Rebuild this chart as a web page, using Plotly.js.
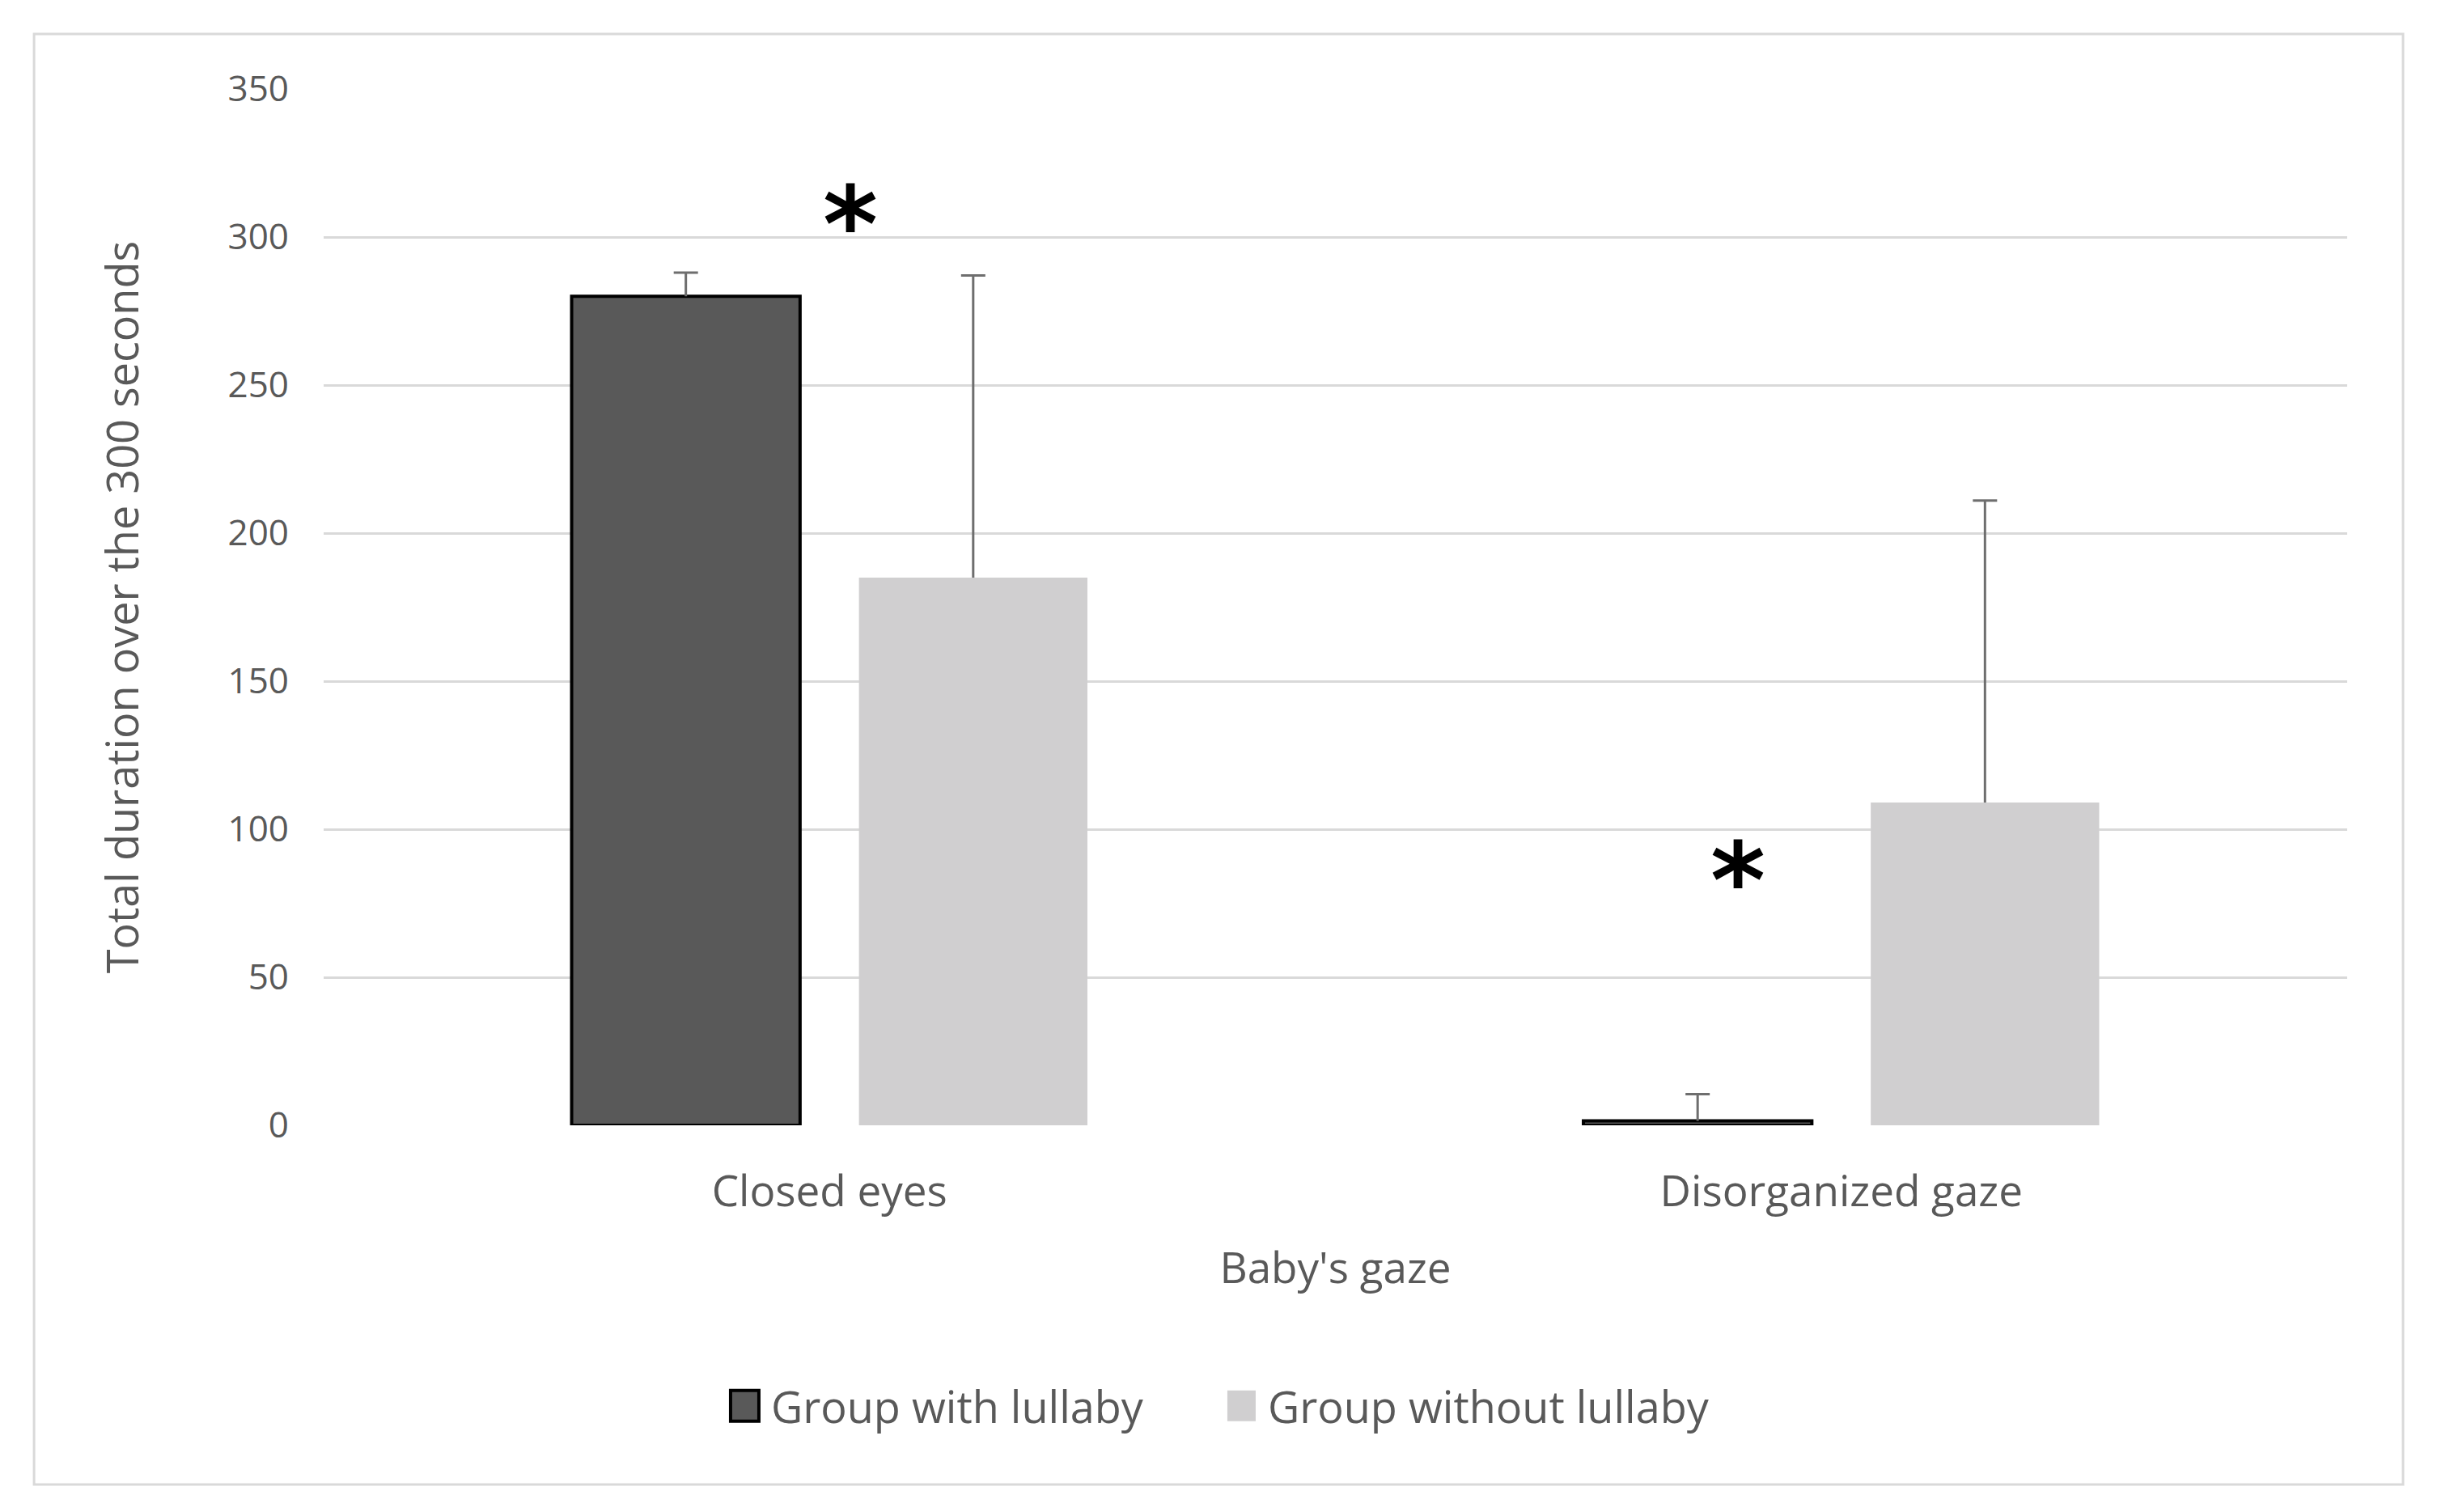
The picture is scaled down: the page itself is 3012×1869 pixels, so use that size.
<!DOCTYPE html>
<html>
<head>
<meta charset="utf-8">
<script src="https://cdn.plot.ly/plotly-3.0.1.min.js"></script>
<style>html,body{margin:0;padding:0;background:#fff;}#chart{width:3012px;height:1869px;}</style>
</head>
<body>
<div id="chart"></div>
<script>
// Data
const categories = ["Closed eyes", "Disorganized gaze"];
const seriesNames = ["Group with lullaby", "Group without lullaby"];
const withLullaby = [280, 1.5];
const withLullabyErr = [8, 9];
const withoutLullaby = [185, 109];
const withoutLullabyErr = [102, 102];
const yTicks = [0, 50, 100, 150, 200, 250, 300, 350];
const xTitle = "Baby's gaze";
const yTitle = "Total duration over the 300 seconds";
const sigMarks = [
  {cat: "Closed eyes", y: 309, shift: 26},
  {cat: "Disorganized gaze", y: 87, shift: -128}
];

const FONT = "Open Sans, Noto Sans, sans-serif";
const TXT = "#595959";

const traces = [
  {
    type: "bar", name: seriesNames[0], x: categories, y: withLullaby,
    marker: {color: "#595959", line: {color: "#000000", width: 4}},
    error_y: {type: "data", symmetric: false, array: withLullabyErr, arrayminus: [0, 0],
              color: "#6e6e6e", thickness: 3, width: 15}
  },
  {
    type: "bar", name: seriesNames[1], x: categories, y: withoutLullaby,
    marker: {color: "#d0cfd0", line: {width: 0}},
    error_y: {type: "data", symmetric: false, array: withoutLullabyErr, arrayminus: [0, 0],
              color: "#6e6e6e", thickness: 3, width: 15}
  }
];

const layout = {
  width: 3012, height: 1869,
  paper_bgcolor: "#ffffff", plot_bgcolor: "#ffffff",
  margin: {l: 400, r: 111, t: 110, b: 478},
  font: {family: FONT, color: TXT},
  barmode: "group", bargap: 0.432, bargroupgap: 0.205,
  showlegend: true,
  legend: {
    orientation: "h", xref: "container", yref: "container",
    x: 0.2948, xanchor: "left", y: 0.07, yanchor: "middle",
    font: {size: 54, color: TXT, family: FONT}, itemwidth: 55,
    entrywidth: 544, entrywidthmode: "pixels",
    traceorder: "normal"
  },
  xaxis: {
    type: "category", showgrid: false, zeroline: false, showline: false,
    ticks: "", ticklabelstandoff: 46,
    tickfont: {size: 53, color: TXT, family: FONT},
    title: {text: xTitle, font: {size: 53, color: TXT, family: FONT}, standoff: 42},
    automargin: false
  },
  yaxis: {
    range: [0, 350], tickvals: yTicks, ticktext: yTicks.map(String),
    showgrid: true, gridcolor: "#d9d9d9", gridwidth: 3,
    zeroline: false, showline: false, ticks: "", ticklabelstandoff: 42,
    tickfont: {size: 44, color: TXT, family: FONT},
    title: {text: yTitle, font: {size: 54, color: TXT, family: FONT}, standoff: 92},
    automargin: false
  },
  annotations: sigMarks.map((m, i) => ({
    x: m.cat, y: m.y, xref: "x", yref: "y", xshift: m.shift, yshift: i === 0 ? -18 : -16,
    text: "<b>*</b>", showarrow: false,
    font: {size: 130, color: "#000000", family: "DejaVu Sans, sans-serif"},
    xanchor: "center", yanchor: "middle"
  })),
  shapes: [{
    type: "rect", xref: "paper", yref: "paper",
    x0: -0.1431, x1: 1.0276, y0: -0.3466, y1: 1.0531,
    line: {color: "#d9d9d9", width: 3}, fillcolor: "rgba(0,0,0,0)", layer: "below"
  }]
};

Plotly.newPlot("chart", traces, layout, {staticPlot: true, displayModeBar: false}).then(() => {
  // enlarge the legend swatches to match the reference's square keys
  document.querySelectorAll("#chart .legend .legendpoints path").forEach(p => {
    p.setAttribute("d", "M17.5,19H-17.5V-19H17.5Z");
  });
  // the reference shows only the upper whisker: drop the lower cap ("shoe")
  document.querySelectorAll("#chart .errorbar path").forEach(p => {
    const d = p.getAttribute("d") || "";
    p.setAttribute("d", d.replace(/m-[\d.]+,0h[\d.]+$/, ""));
  });
});
</script>
</body>
</html>
